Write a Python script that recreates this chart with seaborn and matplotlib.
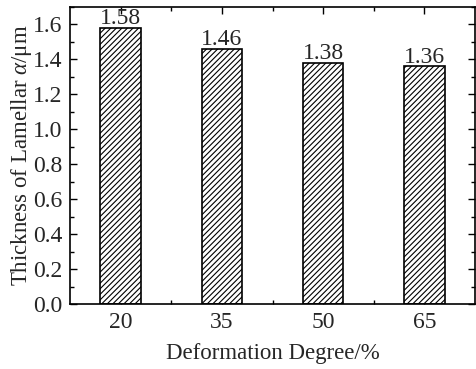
import matplotlib
matplotlib.use("Agg")
import matplotlib.pyplot as plt
import seaborn as sns
import pandas as pd
from matplotlib.ticker import MultipleLocator, FixedLocator

categories = ["20", "35", "50", "65"]
values = [1.58, 1.46, 1.38, 1.36]
bar_labels = ["1.58", "1.46", "1.38", "1.36"]
yticks = [0.0, 0.2, 0.4, 0.6, 0.8, 1.0, 1.2, 1.4, 1.6]

sns.set_theme(style="ticks")
plt.rcParams['font.family'] = ['Liberation Serif', 'DejaVu Serif']
plt.rcParams['mathtext.fontset'] = 'custom'
plt.rcParams['mathtext.rm'] = 'Liberation Serif'
plt.rcParams['mathtext.it'] = 'Liberation Serif:italic'
plt.rcParams['hatch.linewidth'] = 0.8

df = pd.DataFrame({"deg": categories, "val": values})

fig = plt.figure(figsize=(4.76, 3.69), dpi=100)
ax = fig.add_axes([0.147, 0.176, 0.851, 0.805])
sns.barplot(data=df, x="deg", y="val", color="white", edgecolor="black",
            linewidth=1.2, width=0.4, saturation=1, ax=ax)
for p in ax.patches:
    p.set_hatch("//////")
    p.set_facecolor("white")
    p.set_edgecolor("black")

ax.bar_label(ax.containers[0], labels=bar_labels, padding=-1, fontsize=17)

ax.set_xlim(-0.5, 3.5)
ax.set_ylim(0, 1.7)
ax.set_yticks(yticks)
ax.set_yticklabels([f"{t:.1f}" for t in yticks])
ax.yaxis.set_minor_locator(MultipleLocator(0.1))
ax.xaxis.set_minor_locator(FixedLocator([0.5, 1.5, 2.5]))
ax.tick_params(axis="both", which="both", direction="in", top=True, right=True,
               labelsize=17, color="black", width=1.0)
ax.tick_params(axis="x", which="both", pad=6)
ax.tick_params(axis="y", which="both", pad=5.5)
ax.tick_params(axis="both", which="major", length=5)
ax.tick_params(axis="both", which="minor", length=3)
for s in ax.spines.values():
    s.set_linewidth(1.2)
    s.set_color("black")

ax.set_xlabel("Deformation Degree/%", fontsize=16.5, labelpad=7)
ax.set_ylabel(r"Thickness of Lamellar $\alpha$/μm", fontsize=16.5, labelpad=-1)

fig.savefig("out.png", dpi=100)
